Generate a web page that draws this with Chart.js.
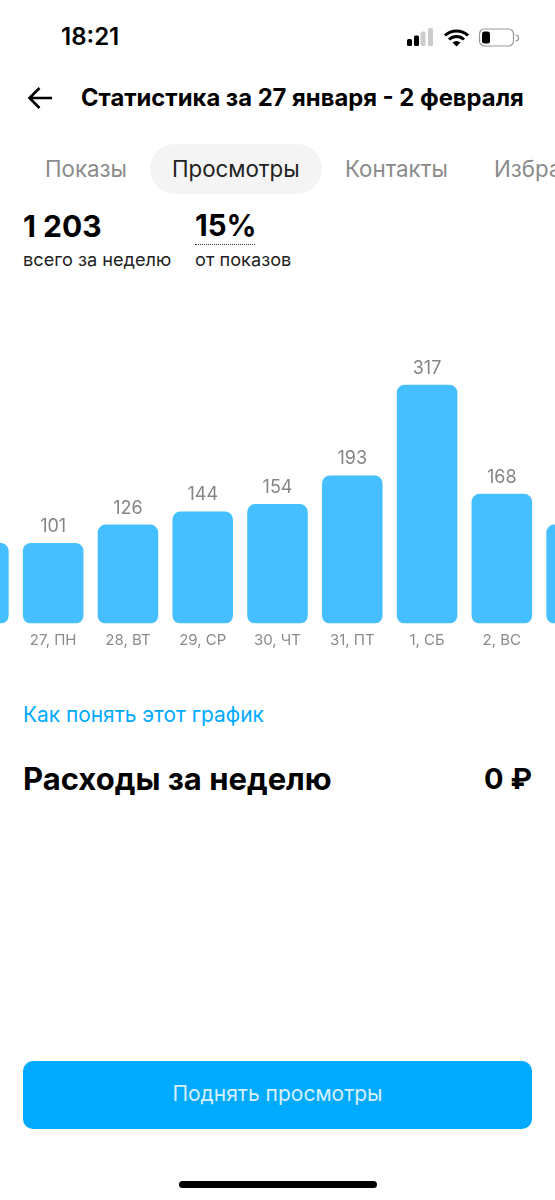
<!DOCTYPE html>
<html lang="ru">
<head>
<meta charset="utf-8">
<title>Статистика</title>
<script src="https://cdn.jsdelivr.net/npm/chart.js@4"></script>
<style>
html, body { margin: 0; padding: 0; background: #fff; }
body { position: relative; width: 555px; height: 1200px; overflow: hidden; font-family: Inter, "Noto Sans", sans-serif; color: #000; }
.t { position: absolute; white-space: nowrap; line-height: 1; transform: translateY(-50%); }
.tab { font-size: 22.3px; color: #8b8b8b; }
#pill { position: absolute; left: 150px; top: 144px; width: 172px; height: 50px; border-radius: 25px; background: #f4f4f4; }
#dots { position: absolute; left: 195px; top: 244px; width: 60px; border-top: 1.5px dotted #333; }
#wrap { position: absolute; left: -59px; top: 340px; width: 673px; height: 320px; }
#btn { position: absolute; left: 23px; top: 1061px; width: 509px; height: 68px; border-radius: 10px; background: #00aaff; color: #d6f0ff; font-size: 21px; text-align: center; line-height: 65px; }
#home { position: absolute; left: 179px; top: 1181px; width: 198px; height: 7px; border-radius: 4px; background: #000; }
svg { position: absolute; }
</style>
</head>
<body>
<div class="t" style="left:61px;top:37px;font-size:24px;font-weight:600">18:21</div>
<svg style="left:405px;top:26px" width="115" height="24" viewBox="0 0 115 24">
  <rect x="2" y="13" width="5" height="7" rx="1.5" fill="#000"/>
  <rect x="9" y="9.5" width="5" height="10.5" rx="1.5" fill="#000"/>
  <rect x="15.5" y="5.5" width="5" height="14.5" rx="1.5" fill="#ccc"/>
  <rect x="23" y="2" width="5" height="18" rx="1.5" fill="#ccc"/>
  <path d="M40 9.5 a17 17 0 0 1 23 0 M44 13.5 a11 11 0 0 1 15 0" fill="none" stroke="#000" stroke-width="3"/>
  <path d="M47.5 16.5 a6 6 0 0 1 8 0 L51.5 20.5 Z" fill="#000"/>
  <rect x="74.5" y="3" width="34" height="17" rx="5" fill="none" stroke="#999" stroke-width="1.2"/>
  <rect x="77" y="5.5" width="8" height="12" rx="2.5" fill="#000"/>
  <path d="M110.5 9 a3 3 0 0 1 0 6" fill="none" stroke="#999" stroke-width="1.2"/>
</svg>

<svg style="left:27px;top:85px" width="28" height="26" viewBox="0 0 28 26">
  <path d="M25 13 H3 M12.5 3 L2.5 13 L12.5 23" fill="none" stroke="#000" stroke-width="2.6"/>
</svg>
<div class="t" style="left:81px;top:98px;font-size:23.8px;font-weight:700">Статистика за 27 января - 2 февраля</div>

<div id="pill"></div>
<div class="t tab" style="left:45px;top:169px">Показы</div>
<div class="t tab" style="left:172px;top:169px;color:#222">Просмотры</div>
<div class="t tab" style="left:345px;top:169px">Контакты</div>
<div class="t tab" style="left:494px;top:169px">Избранное</div>

<div class="t" style="left:23px;top:226px;font-size:30px;font-weight:700">1 203</div>
<div class="t" style="left:23px;top:259px;font-size:18.2px;color:#222">всего за неделю</div>
<div class="t" style="left:195px;top:226px;font-size:29.5px;font-weight:700">15%</div>
<div id="dots"></div>
<div class="t" style="left:195px;top:259px;font-size:18.2px;color:#222">от показов</div>

<div id="wrap"><canvas id="viewsChart"></canvas></div>

<div class="t" style="left:23px;top:715px;font-size:20.9px;color:#00aaff">Как понять этот график</div>
<div class="t" style="left:23px;top:778px;font-size:31px;font-weight:700">Расходы за неделю</div>
<div class="t" style="right:23px;top:778px;font-size:29px;font-weight:700">0 ₽</div>

<div id="btn">Поднять просмотры</div>
<div id="home"></div>

<script>
// the first and last bars are cut by the screen edge, their labels are not on screen
const days = ['', '27, ПН', '28, ВТ', '29, СР', '30, ЧТ', '31, ПТ', '1, СБ', '2, ВС', ''];
const views = [101, 101, 126, 144, 154, 193, 317, 168, 126];

const yMin = -9;
const yMax = 378;

const valueLabels = {
  id: 'valueLabels',
  afterDatasetsDraw(chart) {
    const ctx = chart.ctx;
    ctx.save();
    ctx.font = '18px Inter, sans-serif';
    ctx.fillStyle = '#858585';
    ctx.textAlign = 'center';
    ctx.textBaseline = 'middle';
    chart.getDatasetMeta(0).data.forEach(function(bar, i) {
      ctx.fillText(views[i], bar.x, bar.y - 16.5);
    });
    ctx.restore();
  }
};

new Chart(document.getElementById('viewsChart'), {
  type: 'bar',
  data: {
    labels: days,
    datasets: [{
      data: views,
      base: yMin,
      backgroundColor: '#45bfff',
      borderRadius: 8,
      borderSkipped: false,
      barPercentage: 0.81,
      categoryPercentage: 1
    }]
  },
  options: {
    responsive: true,
    maintainAspectRatio: false,
    animation: false,
    events: [],
    plugins: { legend: { display: false }, tooltip: { enabled: false } },
    scales: {
      x: {
        border: { display: false },
        grid: { display: false, drawTicks: false },
        ticks: {
          color: '#8b8b8b',
          font: { family: 'Inter, sans-serif', size: 15 },
          padding: 8,
          maxRotation: 0,
          autoSkip: false
        },
        afterFit(scale) { scale.height = 36.5; }
      },
      y: {
        display: false,
        min: yMin,
        max: yMax
      }
    }
  },
  plugins: [valueLabels]
});
</script>
</body>
</html>
